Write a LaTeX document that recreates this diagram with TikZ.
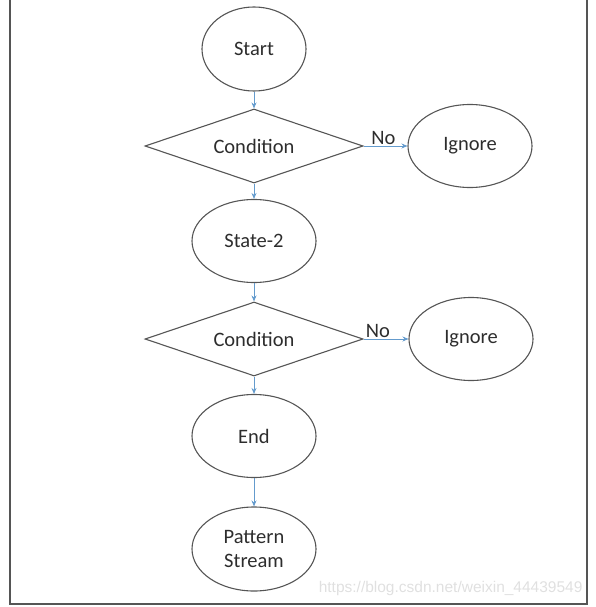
\documentclass[tikz,border=0pt]{standalone}
\usepackage{fontspec}
\setmainfont{Carlito}
\newfontfamily\markfont{Liberation Sans}
\usepackage{tikz}
\usetikzlibrary{arrows.meta}
\usetikzlibrary{shapes.geometric}

\definecolor{lineGray}{RGB}{85,85,85}
\definecolor{flowBlue}{RGB}{100,155,205}
\definecolor{textGray}{RGB}{45,45,45}

\begin{document}
\begin{tikzpicture}[x=1pt, y=-1pt]
	\useasboundingbox (0,0) rectangle (595,607);
	\begin{scope}
		\clip (0,0) rectangle (595,607);
		\draw[lineGray, line width=1.8pt] (10,-5) -- (10,604) -- (587,604) -- (587,-5);
	\end{scope}
	\begin{scope}[every node/.style = {draw=lineGray, line width=1.1pt, text=textGray,
			font=\fontsize{20.5}{24}\selectfont, align=center, inner sep=0pt},
		state/.style = {ellipse, minimum width=124pt, minimum height=83pt},
		decision/.style = {diamond, aspect=2.95, minimum width=218pt, minimum height=74pt}]
		\node[state, minimum width=104pt, minimum height=84pt] (Start) at (254,49) {Start};
		\node[decision] (Cond1) at (254,146) {Condition};
		\node[state, minimum height=83pt] (Ign1) at (470,146) {Ignore};
		\node[state] (State2) at (254,241) {State-2};
		\node[decision] (Cond2) at (254,339) {Condition};
		\node[state] (Ign2) at (471,339) {Ignore};
		\node[state] (End) at (254,436) {End};
		\node[state, minimum height=84pt] (Pattern) at (254,549) {Pattern\\Stream};
	\end{scope}
	\begin{scope}[>={Stealth[length=6pt, width=5pt]},
			every edge/.style={draw=flowBlue, line width=0.9pt},
			every node/.style={text=textGray, font=\fontsize{20.5}{24}\selectfont}]
		\path [->] (Start) edge (Cond1);
		\path [->] (Cond1) edge (State2);
		\path [->] (State2) edge (Cond2);
		\path [->] (Cond2) edge (End);
		\path [->] (End) edge (Pattern);
		\path [->] (Cond1) edge node[above, pos=0.45, inner sep=1pt] (No1) {No} (Ign1);
		\path [->] (Cond2) edge node[above, pos=0.32, inner sep=1pt] (No2) {No} (Ign2);
	\end{scope}
	\node[text=black!12, font=\markfont\fontsize{15.5}{18}\selectfont, anchor=east] (Mark) at (586,588) {https://blog.csdn.net/weixin\_44439549};
\end{tikzpicture}
\end{document}
